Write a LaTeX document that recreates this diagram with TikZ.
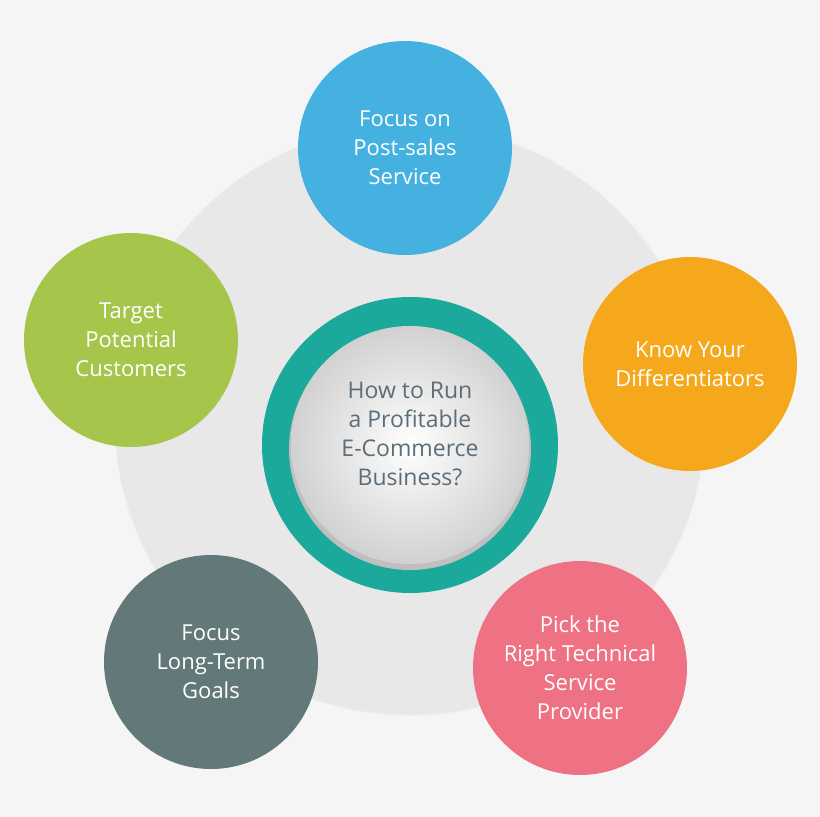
\documentclass[tikz,border=0pt]{standalone}
\usepackage{fontspec}
\setmainfont{Open Sans}
\begin{document}
\begin{tikzpicture}[x=1pt,y=-1pt,
  bub/.style={circle,minimum size=214pt,inner sep=0pt,text=white,align=center,font=\fontsize{22}{29}\selectfont}]
\definecolor{bg}{HTML}{F5F5F5}
\definecolor{ring}{HTML}{E8E8E8}
\definecolor{cblue}{HTML}{45B1E0}
\definecolor{corange}{HTML}{F6A81C}
\definecolor{cpink}{HTML}{EE7283}
\definecolor{cslate}{HTML}{637878}
\definecolor{cgreen}{HTML}{A5C54B}
\definecolor{cteal}{HTML}{1AA99A}
\definecolor{ctext}{HTML}{5C6D78}
\fill[bg] (0,0) rectangle (820,817);
\useasboundingbox (0,0) rectangle (820,817);
\fill[ring,draw=white!85!gray,line width=1pt] (410,420) circle (295);
\node[bub,fill=cblue] (a) at (405,148) {Focus on\\Post-sales\\Service};
\node[bub,fill=corange] (b) at (690,364) {Know Your\\Differentiators};
\node[bub,fill=cpink] (c) at (580,668) {Pick the\\Right Technical\\Service\\Provider};
\node[bub,fill=cslate] (d) at (211,662) {Focus\\Long-Term\\Goals};
\node[bub,fill=cgreen] (e) at (131,340) {Target\\Potential\\Customers};
\fill[cteal] (410,445) circle (148);
\fill[black!25] (410,449) circle (121);
\shade[inner color=white,outer color=black!18] (410,445) circle (119);
\node[align=center,text=ctext,font=\fontsize{23}{29}\selectfont] (m) at (410,434) {How to Run\\a Profitable\\E-Commerce\\Business?};
\end{tikzpicture}
\end{document}
